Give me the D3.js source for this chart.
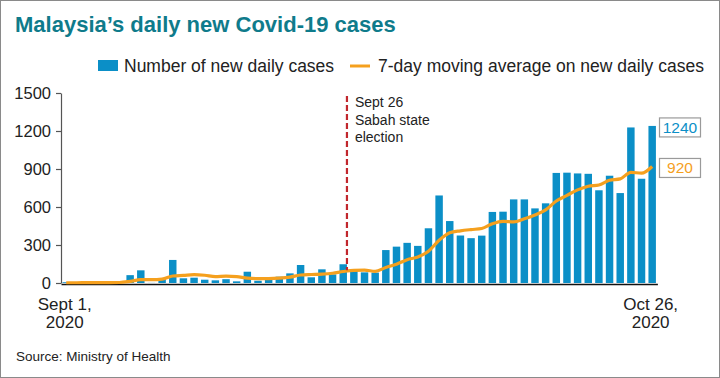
<!DOCTYPE html>
<html><head><meta charset="utf-8">
<script src="https://cdn.jsdelivr.net/npm/d3@7"></script>
<style>
body{margin:0;background:#fff}
svg{display:block}
text{font-family:"Liberation Sans",Arial,Helvetica,sans-serif;fill:#222}
</style>
</head><body>
<svg id="chart" width="720" height="378"></svg>
<script>
// ---- data ----
const firstDay = "2020-09-01";
const lastDay = "2020-10-26";
const dailyCases = [6,1,11,8,1,2,62,100,1,36,
  182,37,42,26,21,30,13,89,18,47,
  50,76,142,45,108,68,148,110,84,82,
  260,287,317,293,432,691,489,375,354,374,
  561,563,660,660,589,629,869,871,865,862,
  732,847,710,1228,823,1240];
const movingAvg = [2,2,3,3,3,4,
  13,26,26,30,55,60,66,61,50,54,
  51,38,35,35,38,46,63,67,70,77,
  91,100,101,92,123,148,184,205,251,337,
  396,412,422,430,468,487,482,507,537,577,
  647,692,735,764,774,811,822,874,867,920];
const yTicks = [0,300,600,900,1200,1500];
const xLabels = [["Sept 1,","2020"],["Oct 26,","2020"]];
const annotationDay = "2020-09-27";
const annotationLines = ["Sept 26","Sabah state","election"];
const annotationTopValue = 100;
const endLabels = [{value:1240, text:"1240", key:"bar"},{value:920, text:"920", key:"avg"}];
const titleText = "Malaysia\u2019s daily new Covid-19 cases";
const legendLabels = ["Number of new daily cases","7-day moving average on new daily cases"];
const sourceText = "Source: Ministry of Health";

// ---- styles ----
const BLUE = "#0b8fc7", ORANGE = "#f5a01e", TEAL = "#0f7b8b", RED = "#c1272d";

const parse = d3.timeParse("%Y-%m-%d");
const days = d3.timeDay.range(parse(firstDay), d3.timeDay.offset(parse(lastDay), 1));
const data = days.map((d,i)=>({date:d, cases:dailyCases[i], avg:movingAvg[i]}));

const svg = d3.select("#chart");
svg.append("rect").attr("x",0.5).attr("y",0.5).attr("width",719).attr("height",377)
  .attr("fill","#fff").attr("stroke","#8a8a8a");

const x = d3.scaleBand().domain(days).range([61,657.4]).paddingInner(0.3).paddingOuter(0.14);
const y = d3.scaleLinear().domain([0,1500]).range([283,93]);

// title
svg.append("text").attr("x",15).attr("y",32).text(titleText)
  .style("font-weight","bold").style("font-size","22px").style("fill",TEAL);

// legend
svg.append("rect").attr("x",98).attr("y",60).attr("width",20).attr("height",11).attr("fill",BLUE);
svg.append("text").attr("x",124).attr("y",72).text(legendLabels[0]).style("font-size","17.5px");
svg.append("line").attr("x1",350).attr("x2",370).attr("y1",66).attr("y2",66)
  .attr("stroke",ORANGE).attr("stroke-width",3);
svg.append("text").attr("x",378).attr("y",72).text(legendLabels[1]).style("font-size","17.5px");

// y axis
const yAxis = d3.axisLeft(y).tickValues(yTicks).tickFormat(d3.format("d"))
  .tickSize(5).tickSizeOuter(0).tickPadding(5);
const gy = svg.append("g").attr("transform","translate(61,0)").call(yAxis);
gy.select(".domain").attr("stroke","#555").attr("stroke-width",1.2);
gy.selectAll(".tick line").attr("stroke","#555").attr("stroke-width",1.2);
gy.selectAll(".tick text").style("font-size","16.5px").style("font-family",'"Liberation Sans",Arial,sans-serif').attr("fill","#222");

// bars
svg.append("g").selectAll("rect").data(data).join("rect")
  .attr("x",d=>x(d.date)).attr("width",x.bandwidth())
  .attr("y",d=>y(d.cases)).attr("height",d=>y(0)-y(d.cases))
  .attr("fill",BLUE);

// x axis baseline
const xAxis = d3.axisBottom(x).tickValues([]).tickSizeOuter(0);
const gx = svg.append("g").attr("transform",`translate(0,${y(0)+1})`).call(xAxis);
gx.select(".domain").attr("stroke","#111").attr("stroke-width",1.6);

// moving average line
const line = d3.line().x(d=>x(d.date)+x.bandwidth()/2).y(d=>y(d.avg)).curve(d3.curveMonotoneX);
svg.append("path").datum(data).attr("d",line).attr("fill","none")
  .attr("stroke",ORANGE).attr("stroke-width",3.2).attr("stroke-linejoin","round");

// annotation
const ax = x(parse(annotationDay)) + x.bandwidth();
svg.append("line").attr("x1",ax).attr("x2",ax).attr("y1",96).attr("y2",y(annotationTopValue))
  .attr("stroke",RED).attr("stroke-width",2.2).attr("stroke-dasharray","6,3");
const at = svg.append("text").attr("x",ax+8).attr("y",107).style("font-size","14px");
annotationLines.forEach((t,i)=>at.append("tspan").attr("x",ax+8).attr("dy",i?17.5:0).text(t));

// x labels
[days[0], days[days.length-1]].forEach((d,i)=>{
  const cx = x(d)+x.bandwidth()/2 - 1.5;
  const t = svg.append("text").attr("x",cx).attr("y",310).attr("text-anchor","middle").style("font-size","17px");
  t.append("tspan").attr("x",cx).attr("dy",0).text(xLabels[i][0]);
  t.append("tspan").attr("x",cx).attr("dy",18).text(xLabels[i][1]);
});

// end value labels
endLabels.forEach(l=>{
  const cy = y(l.value)+1.5;
  svg.append("rect").attr("x",659.5).attr("y",cy-9.5).attr("width",41).attr("height",19)
    .attr("fill","#fff").attr("stroke","#9a9a9a").attr("stroke-width",1.2);
  svg.append("text").attr("x",680).attr("y",cy+5.5).attr("text-anchor","middle")
    .style("font-size","15.5px").style("fill",l.key==="bar"?BLUE:ORANGE).text(l.text);
});

// source
svg.append("text").attr("x",16).attr("y",361).text(sourceText).style("font-size","13.5px");
</script>
</body></html>
